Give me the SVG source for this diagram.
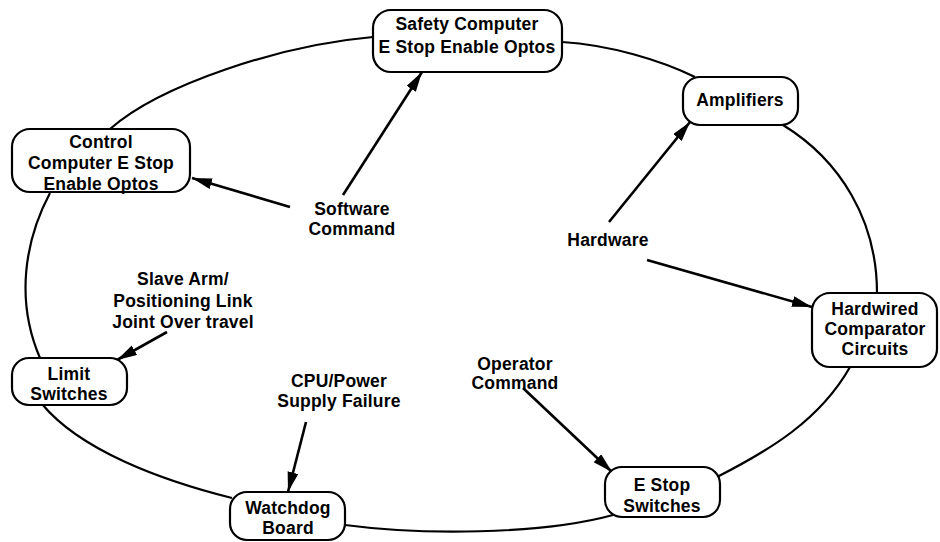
<svg xmlns="http://www.w3.org/2000/svg" width="940" height="542" viewBox="0 0 940 542">
<style>
.node rect{fill:#fff;stroke:#000;stroke-width:2.2}
text{font-family:"Liberation Sans",Arial,sans-serif;font-weight:bold;font-size:17.5px;letter-spacing:0.2px;fill:#000;text-anchor:middle}
.loop{fill:none;stroke:#000;stroke-width:2.2}
.arrow{fill:none;stroke:#000;stroke-width:2.6;marker-end:url(#ah)}
</style>
<defs>
<marker id="ah" markerUnits="userSpaceOnUse" markerWidth="22" markerHeight="12" refX="20" refY="5.5" orient="auto">
<path d="M0,0 L20,5.5 L0,11 z" fill="#000"/>
</marker>
</defs>
<g id="connectors">
<path class="loop" d="M373,37 C280,45 160,85 110,129"/>
<path class="loop" d="M50,193 C25,240 15,300 40,358"/>
<path class="loop" d="M42,404 C80,450 160,480 232,498"/>
<path class="loop" d="M345,525 C420,535 540,535 613,515"/>
<path class="loop" d="M717,477 C770,450 820,420 850,367"/>
<path class="loop" d="M877,293 C877,220 840,160 783,125"/>
<path class="loop" d="M562,42 C610,45 660,60 695,77"/>
<line class="arrow" x1="343" y1="195" x2="422" y2="72"/>
<line class="arrow" x1="290" y1="207" x2="192" y2="178"/>
<line class="arrow" x1="609" y1="222" x2="690" y2="122"/>
<line class="arrow" x1="647" y1="260" x2="812" y2="307"/>
<line class="arrow" x1="167" y1="332" x2="117" y2="360"/>
<line class="arrow" x1="306" y1="422" x2="288" y2="492"/>
<line class="arrow" x1="523" y1="388" x2="612" y2="472"/>
</g>
<g id="safety" class="node"><rect x="373" y="10" width="189" height="62" rx="18"/><text x="467" y="30">Safety Computer</text><text x="467" y="53">E Stop Enable Optos</text></g>
<g id="control" class="node"><rect x="12" y="129" width="178" height="63" rx="18"/><text x="101" y="148">Control</text><text x="101" y="169">Computer E Stop</text><text x="101" y="190">Enable Optos</text></g>
<g id="amplifiers" class="node"><rect x="683" y="77" width="115" height="48" rx="17"/><text x="740" y="106">Amplifiers</text></g>
<g id="hardwired" class="node"><rect x="812" y="293" width="125" height="74" rx="18"/><text x="875" y="315">Hardwired</text><text x="875" y="335">Comparator</text><text x="875" y="355">Circuits</text></g>
<g id="limit" class="node"><rect x="12" y="358" width="115" height="47" rx="17"/><text x="69" y="380">Limit</text><text x="69" y="400">Switches</text></g>
<g id="watchdog" class="node"><rect x="230" y="492" width="115" height="48" rx="17"/><text x="288" y="514">Watchdog</text><text x="288" y="534">Board</text></g>
<g id="estop" class="node"><rect x="605" y="467" width="115" height="50" rx="17"/><text x="662" y="491">E Stop</text><text x="662" y="512">Switches</text></g>
<g id="labels">
<text x="352" y="215">Software</text><text x="352" y="235">Command</text>
<text x="608" y="246">Hardware</text>
<text x="183" y="285">Slave Arm/</text><text x="183" y="307">Positioning Link</text><text x="183" y="328">Joint Over travel</text>
<text x="339" y="387">CPU/Power</text><text x="339" y="407">Supply Failure</text>
<text x="515" y="370">Operator</text><text x="515" y="389">Command</text>
</g>
</svg>
